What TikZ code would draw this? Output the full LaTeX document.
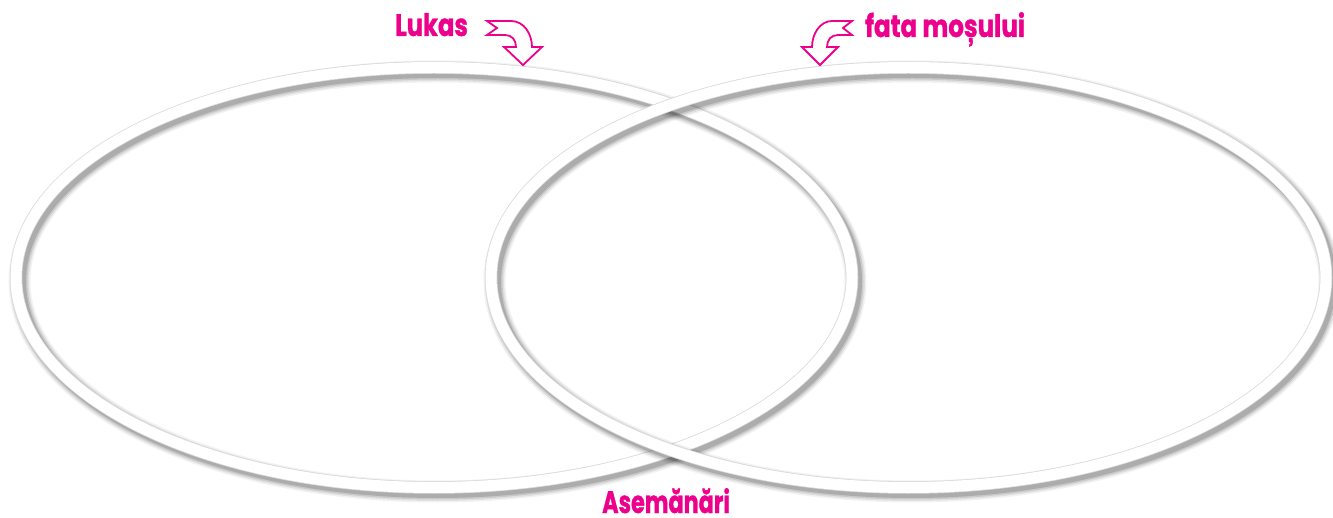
\documentclass[tikz,border=0pt]{standalone}
\usepackage{fontspec}
\newfontfamily\labfont{Poppins}[BoldFeatures={FakeBold=1.2}]
\definecolor{mag}{HTML}{EC008C}
\begin{document}
\begin{tikzpicture}[x=1pt,y=-1pt,
  lab/.style={text=mag,font=\fontsize{31}{31}\labfont\bfseries,inner sep=0pt},
  bentarrow/.style={draw=mag,fill=white,line width=1.8pt,line join=miter},
  shade/.style={draw=black,draw opacity=#1},
  ring/.style={draw=white,line width=11pt},
  ringedge/.style={draw=black!15,line width=12.5pt}]
\useasboundingbox[fill=white] (0,0) rectangle (1333,518);
% left ring
\begin{scope}[shift={(3.5,4)}]
  \foreach \w/\o in {22/0.05,19/0.07,16/0.10,13/0.14}
    \draw[shade=\o,line width=\w pt] (434,277.5) ellipse [x radius=418, y radius=210];
\end{scope}
\draw[ringedge] (434,277.5) ellipse [x radius=418, y radius=210];
\draw[ring] (434,277.5) ellipse [x radius=418, y radius=210];
% right ring
\begin{scope}[shift={(3.5,4)}]
  \foreach \w/\o in {22/0.05,19/0.07,16/0.10,13/0.14}
    \draw[shade=\o,line width=\w pt] (908.5,277.5) ellipse [x radius=417.5, y radius=210];
\end{scope}
\draw[ringedge] (908.5,277.5) ellipse [x radius=417.5, y radius=210];
\draw[ring] (908.5,277.5) ellipse [x radius=417.5, y radius=210];
% labels
\node[lab,anchor=base west] (lukas) at (395,36) {\scalebox{0.78}[1]{Lukas}};
\node[lab,anchor=base west] (fata) at (865,37) {\scalebox{0.79}[1]{fata moșului}};
\node[lab,anchor=base west] (asem) at (602,513) {\scalebox{0.72}[1]{Asemănări}};
% bent arrows
\draw[bentarrow] (487,21) -- (511,21) .. controls (524,21) and (532,34) .. (532,47)
  -- (542,47) -- (523,65) -- (504,47) -- (516,47) .. controls (516,40) and (512,35) .. (505,35)
  -- (487,35) -- (497,28) -- cycle;
\draw[bentarrow] (852,21) -- (832,21) .. controls (820,21) and (812,34) .. (812,47)
  -- (802,47) -- (820,65) -- (838,47) -- (827,47) .. controls (827,40) and (831,35) .. (838,35)
  -- (852,35) -- (843,28) -- cycle;
\end{tikzpicture}
\end{document}
